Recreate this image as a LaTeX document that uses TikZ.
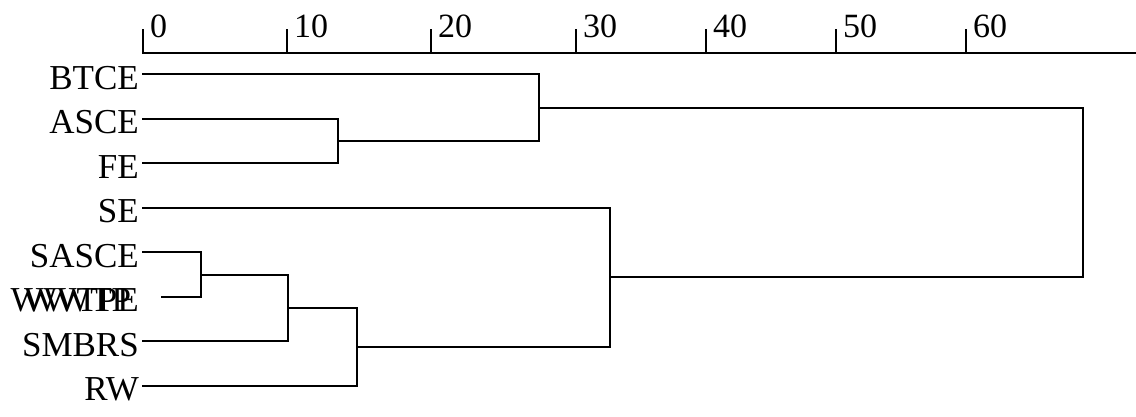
\documentclass[tikz,border=0pt]{standalone}
\usepackage{fontspec}
\setmainfont{Liberation Serif}
\begin{document}
\begin{tikzpicture}[x=1pt,y=-1pt,
  link/.style={line width=2pt,line cap=rect},
  leaflabel/.style={font=\fontsize{35}{40}\selectfont,inner sep=0pt,anchor=base east},
  ticklabel/.style={font=\fontsize{34}{40}\selectfont,inner sep=0pt,anchor=base west}]
\useasboundingbox (0,0) rectangle (1136,416);
% axis
\coordinate (ax0) at (143,53);
\coordinate (axE) at (1136,53);
\draw[link] (ax0) -- (axE);
\foreach \v/\x in {0/143,10/287,20/431,30/576,40/706,50/836,60/966}{
  \coordinate (t\v) at (\x,53);
  \coordinate (tt\v) at (\x,30);
  \draw[link] (t\v) -- (tt\v);
  \node[ticklabel] (tl\v) at (\x+7,37) {\v};
}
% leaves
\foreach \n/\y in {BTCE/74.3,ASCE/118.8,FE/163.3,SE/207.8,SASCE/252.3,SMBRS/341.3,RW/385.8}{
  \node[leaflabel] (n\n) at (139,\y+15) {\n};
  \coordinate (l\n) at (143,\y);
}
\node[leaflabel] (nWWTPE) at (139,311.8) {WWTPE};
\node[leaflabel,anchor=base west] (nWWTP) at (24,311.8) {WWTP};
\coordinate (lWWTP) at (162,296.8);
% merges
\coordinate (m1) at (338,141.05);
\coordinate (m2) at (539,107.7);
\coordinate (m3) at (201,274.55);
\coordinate (m4) at (288,307.9);
\coordinate (m5) at (357,346.85);
\coordinate (m6) at (610,277.3);
\coordinate (m7) at (1083,192.5);
\draw[link] (lASCE) -| (m1) |- (lFE);
\draw[link] (lBTCE) -| (m2) |- (m1);
\draw[link] (lSASCE) -| (m3) |- (lWWTP);
\draw[link] (m3) -| (m4) |- (lSMBRS);
\draw[link] (m4) -| (m5) |- (lRW);
\draw[link] (lSE) -| (m6) |- (m5);
\draw[link] (m2) -| (m7) |- (m6);
\end{tikzpicture}
\end{document}
